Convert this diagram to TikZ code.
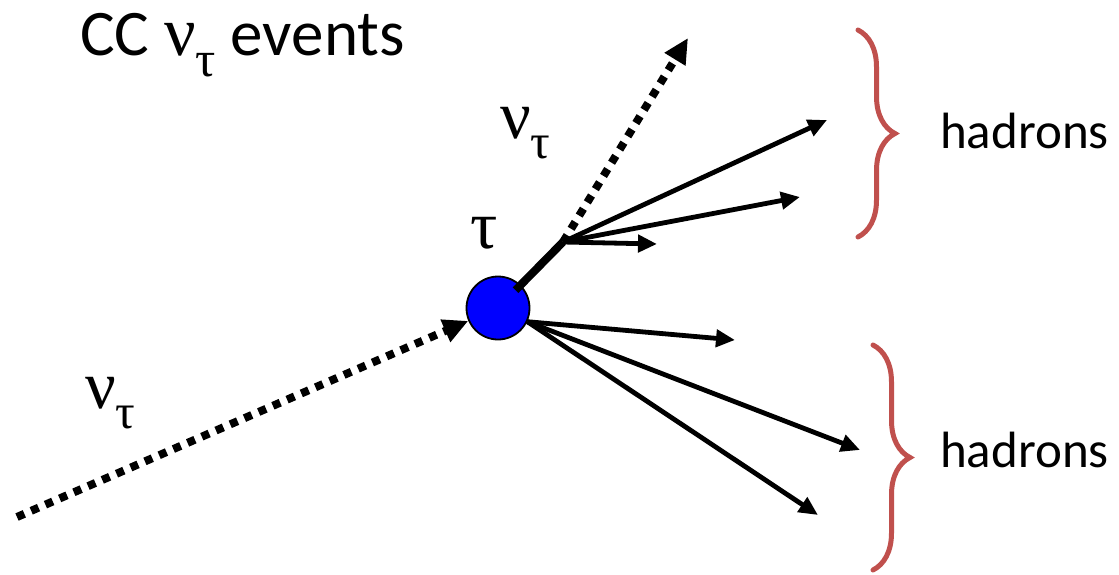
\documentclass[tikz,border=0pt]{standalone}
\usepackage{fontspec}
\setmainfont{Carlito}
\newfontfamily\greekfont{Liberation Serif}
\usetikzlibrary{arrows.meta,positioning,calc,decorations.pathreplacing}
\definecolor{bracered}{RGB}{192,80,77}
\newcommand{\nutau}{{\greekfont ν\raisebox{-0.3em}{\scalebox{0.72}{τ}}}}
\tikzset{
  vertexdot/.style={circle,draw,fill=blue,line width=1.8pt,minimum size=63pt,inner sep=0pt},
  trackarrow/.style={-{Triangle[length=19pt,width=17pt]},line width=4.8pt},
  nuarrow/.style={-{Triangle[length=25pt,width=23pt]},line width=8pt,dash pattern=on 8pt off 7.5pt},
  hadbrace/.style={decorate,decoration={brace,amplitude=37pt},draw=bracered,line width=5pt,line cap=round},
  lbl/.style={inner sep=0pt,anchor=base west}
}

\begin{document}
\begin{tikzpicture}[x=1pt,y=-1pt]
  \useasboundingbox (0,0) rectangle (1119,574);
  \node[vertexdot] (vtx) at (498,308) {};
  \coordinate (nuin) at (17,517);
  \coordinate (dec) at (563,242);
  \coordinate (nuout) at (688,38);
  \coordinate (ha) at (827,120);
  \coordinate (hb) at (800,197);
  \coordinate (hc) at (657,244);
  \coordinate (hd) at (735,340);
  \coordinate (he) at (860,450);
  \coordinate (hf) at (818,515);
  % neutrinos in and out
  \draw[nuarrow] (nuin) -- (vtx);
  \draw[line width=8pt,shorten <=25pt] (vtx.center) -- (dec);
  \draw[nuarrow] (dec) -- (nuout);
  % tau decay products
  \draw[trackarrow] (dec) -- (ha);
  \draw[trackarrow] (dec) -- (hb);
  \draw[trackarrow] (dec) -- (hc);
  % hadrons from the vertex
  \draw[trackarrow] (vtx.-25) -- (hd);
  \draw[trackarrow] (vtx.-25) -- (he);
  \draw[trackarrow] (vtx.-25) -- (hf);
  % braces
  \coordinate (bua) at (858,30);
  \coordinate (bub) at (858,237);
  \coordinate (bla) at (873,345);
  \coordinate (blb) at (873,570);
  \draw[hadbrace] (bua) -- (bub);
  \draw[hadbrace] (bla) -- (blb);
  % labels
  \node[lbl,font=\fontsize{65}{70}\selectfont] (title) at (80,55) {CC {\fontsize{70}{70}\selectfont\nutau}{} events};
  \node[lbl,font=\fontsize{68}{70}\selectfont] (nulow) at (85,408) {\nutau};
  \node[lbl,font=\fontsize{68}{70}\selectfont] (nuup) at (500,138) {\nutau};
  \node[lbl,font=\fontsize{68}{70}\selectfont] (taulbl) at (470,248) {\greekfont τ};
  \node[lbl,font=\fontsize{51}{60}\selectfont] (hadup) at (940,148) {hadrons};
  \node[lbl,font=\fontsize{51}{60}\selectfont] (hadlow) at (940,467) {hadrons};
\end{tikzpicture}
\end{document}
